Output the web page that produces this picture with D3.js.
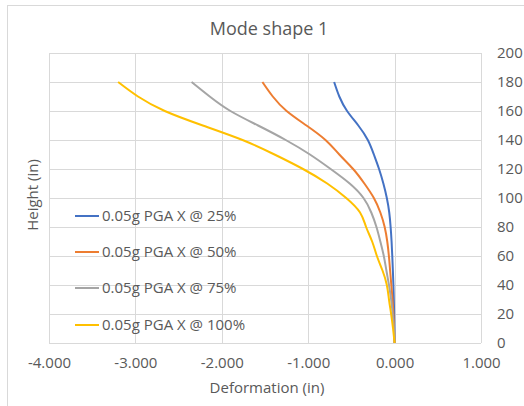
<!DOCTYPE html>
<html>
<head>
<meta charset="utf-8">
<script src="https://cdn.jsdelivr.net/npm/d3@7"></script>
<style>
  body { margin: 0; background: #fff; }
  text { font-family: "Open Sans", sans-serif; fill: #595959; }
</style>
</head>
<body>
<div id="chart"></div>
<script>
// heights (in) at which deformation was read
var heights = [0, 10, 20, 30, 40, 50, 60, 70, 80, 90, 100, 110, 120, 130, 140, 150, 160, 170, 180];
var def25  = [0, -0.002, -0.005, -0.009, -0.014, -0.020, -0.027, -0.035, -0.046, -0.062, -0.09, -0.13, -0.18, -0.24, -0.31, -0.42, -0.55, -0.64, -0.70];
var def50  = [0, -0.006, -0.014, -0.024, -0.038, -0.052, -0.066, -0.085, -0.115, -0.165, -0.24, -0.35, -0.48, -0.64, -0.80, -1.02, -1.25, -1.41, -1.53];
var def75  = [0, -0.009, -0.022, -0.040, -0.065, -0.095, -0.125, -0.165, -0.21, -0.27, -0.36, -0.52, -0.74, -0.98, -1.26, -1.58, -1.90, -2.14, -2.35];
var def100 = [0, -0.018, -0.040, -0.065, -0.090, -0.14, -0.205, -0.26, -0.33, -0.40, -0.56, -0.78, -1.06, -1.39, -1.76, -2.22, -2.66, -2.97, -3.20];
var seriesNames = ["0.05g PGA X @ 25%", "0.05g PGA X @ 50%", "0.05g PGA X @ 75%", "0.05g PGA X @ 100%"];
var xTicks = [-4, -3, -2, -1, 0, 1];
var yTicks = [0, 20, 40, 60, 80, 100, 120, 140, 160, 180, 200];

var colors = ["#4472C4", "#ED7D31", "#A5A5A5", "#FFC000"];
var allSeries = [def25, def50, def75, def100];

var svgWidth = 524, svgHeight = 406;
var plot = {left: 49, right: 481, top: 53, bottom: 343};

var svg = d3.select("#chart").append("svg").attr("width", svgWidth).attr("height", svgHeight);

// chart border
svg.append("rect").attr("x", 7.5).attr("y", 5.5).attr("width", 530).attr("height", 420)
  .attr("fill", "none").attr("stroke", "#d9d9d9");

var xScale = d3.scaleLinear().domain([-4, 1]).range([plot.left, plot.right]);
var yScale = d3.scaleLinear().domain([0, 200]).range([plot.bottom, plot.top]);

// gridlines
var grid = svg.append("g").attr("stroke", "#d9d9d9").attr("stroke-width", 1);
grid.selectAll(".gy").data(yTicks).enter().append("line")
  .attr("x1", plot.left).attr("x2", plot.right)
  .attr("y1", d => Math.round(yScale(d)) + 0.5).attr("y2", d => Math.round(yScale(d)) + 0.5);
grid.selectAll(".gx").data(xTicks).enter().append("line")
  .attr("y1", plot.top).attr("y2", plot.bottom)
  .attr("x1", d => Math.round(xScale(d)) + 0.5).attr("x2", d => Math.round(xScale(d)) + 0.5);

// x axis (plain hyphen for minus, like the original)
var fmt = d3.format(".3f");
var bottomAxis = d3.axisBottom(xScale).tickValues(xTicks).tickFormat(d => fmt(d).replace("\u2212", "-")).tickSize(0).tickPadding(14);
var gx = svg.append("g").attr("transform", `translate(0,${plot.bottom})`).call(bottomAxis);
gx.select(".domain").remove();
gx.selectAll("text").attr("font-size", "15px").attr("fill", "#595959").attr("font-family", "Open Sans, sans-serif");

// y axis on right
var rightAxis = d3.axisRight(yScale).tickValues(yTicks).tickSize(0).tickPadding(16);
var gy = svg.append("g").attr("transform", `translate(${plot.right},0)`).call(rightAxis);
gy.select(".domain").remove();
gy.selectAll("text").attr("font-size", "15px").attr("fill", "#595959").attr("font-family", "Open Sans, sans-serif");

// lines
var line = d3.line().x(d => xScale(d[0])).y(d => yScale(d[1])).curve(d3.curveNatural);
allSeries.forEach(function(s, i) {
  var pts = s.map((v, j) => [v, heights[j]]);
  svg.append("path").attr("d", line(pts)).attr("fill", "none")
    .attr("stroke", colors[i]).attr("stroke-width", 2);
});

// title & axis titles
svg.append("text").attr("x", 269).attr("y", 35).attr("text-anchor", "middle")
  .attr("font-size", "18px").text("Mode shape 1");
svg.append("text").attr("x", 267).attr("y", 393).attr("text-anchor", "middle")
  .attr("font-size", "15px").text("Deformation (in)");
svg.append("text").attr("transform", "translate(38,195) rotate(-90)").attr("text-anchor", "middle")
  .attr("font-size", "15px").text("Height (in)");

// legend
var legendY = [216, 252, 288, 325];
var legend = svg.append("g");
seriesNames.forEach(function(n, i) {
  legend.append("line").attr("x1", 75).attr("x2", 99).attr("y1", legendY[i]).attr("y2", legendY[i])
    .attr("stroke", colors[i]).attr("stroke-width", 2);
  legend.append("text").attr("x", 102).attr("y", legendY[i]).attr("dy", "0.35em")
    .attr("font-size", "15px").text(n);
});
</script>
</body>
</html>
